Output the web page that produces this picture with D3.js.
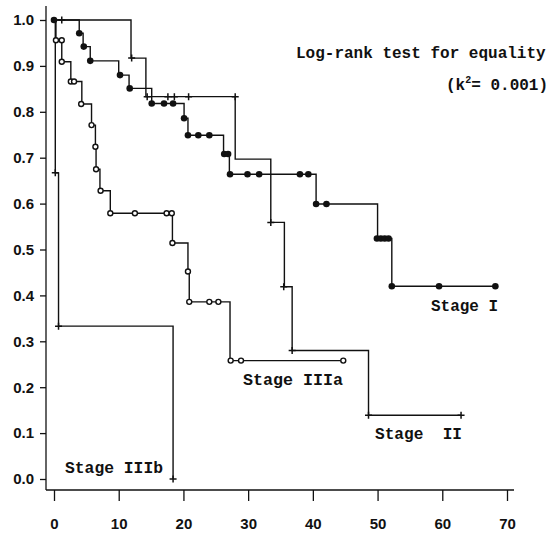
<!DOCTYPE html>
<html><head><meta charset="utf-8">
<script src="https://cdn.jsdelivr.net/npm/d3@7"></script>
<style>body{margin:0;background:#fff}svg{display:block}</style>
</head><body>
<svg id="c" width="552" height="535"></svg>
<script>
// ---- data ----
const xTicks = [0, 10, 20, 30, 40, 50, 60, 70];
const yTicks = [0.0, 0.1, 0.2, 0.3, 0.4, 0.5, 0.6, 0.7, 0.8, 0.9, 1.0];

const stageI_time = [0, 3.9, 4.5, 5.6, 10.0, 11.6, 15.1, 20.1, 20.7, 26.2, 27.1, 40.5, 50.0, 52.2, 68.2];
const stageI_surv = [1.0, 0.971, 0.942, 0.911, 0.880, 0.851, 0.818, 0.786, 0.749, 0.708, 0.664, 0.599, 0.524, 0.420, 0.420];
const stageI_markTime = [0, 3.9, 4.6, 5.6, 10.2, 11.7, 15.1, 17.0, 18.4, 20.1, 20.7, 22.3, 24.0, 26.3, 26.9, 27.2, 29.9, 31.7, 38.0, 39.3, 40.5, 42.1, 49.9, 50.5, 51.1, 51.7, 52.2, 59.5, 68.2];
const stageI_markSurv = [1.0, 0.971, 0.942, 0.911, 0.880, 0.851, 0.818, 0.818, 0.818, 0.786, 0.749, 0.749, 0.749, 0.708, 0.708, 0.664, 0.664, 0.664, 0.664, 0.664, 0.599, 0.599, 0.524, 0.524, 0.524, 0.524, 0.420, 0.420, 0.420];

const stageII_time = [0, 11.9, 14.2, 28.0, 33.5, 35.6, 36.8, 48.6, 62.9];
const stageII_surv = [1.0, 0.917, 0.833, 0.697, 0.559, 0.419, 0.280, 0.139, 0.139];
const stageII_markTime = [1.2, 12.0, 14.4, 17.6, 18.6, 20.8, 28.0, 33.5, 35.5, 36.8, 48.6, 62.9];
const stageII_markSurv = [1.0, 0.917, 0.833, 0.833, 0.833, 0.833, 0.833, 0.559, 0.419, 0.280, 0.139, 0.139];

const stageIIIa_time = [0, 0.3, 1.2, 2.6, 4.3, 5.8, 6.4, 6.5, 7.1, 8.7, 18.3, 20.7, 20.9, 27.2, 44.7];
const stageIIIa_surv = [1.0, 0.956, 0.909, 0.866, 0.817, 0.771, 0.724, 0.675, 0.628, 0.579, 0.514, 0.452, 0.386, 0.258, 0.258];
const stageIIIa_markTime = [0.3, 1.2, 1.2, 2.6, 3.1, 4.2, 5.8, 6.4, 6.5, 7.2, 8.7, 12.5, 17.4, 18.2, 18.3, 20.7, 20.9, 24.0, 25.4, 27.3, 28.9, 44.7];
const stageIIIa_markSurv = [0.956, 0.956, 0.909, 0.866, 0.866, 0.817, 0.771, 0.724, 0.675, 0.628, 0.579, 0.579, 0.579, 0.579, 0.514, 0.452, 0.386, 0.386, 0.386, 0.258, 0.258, 0.258];

const stageIIIb_time = [0, 0.2, 0.7, 18.4, 18.4];
const stageIIIb_surv = [1.0, 0.667, 0.333, 0.0, 0.0];
const stageIIIb_markTime = [0.2, 0.7, 18.4];
const stageIIIb_markSurv = [0.667, 0.333, 0.0];

const stageLabels = ["Stage I", "Stage  II", "Stage IIIa", "Stage IIIb"];
const testTitle = "Log-rank test for equality";

// ---- drawing ----
const svg = d3.select("#c");
const x = d3.scaleLinear().domain([0, 70]).range([54, 507]);
const y = d3.scaleLinear().domain([0, 1]).range([479, 20]);
const axisX = 46, axisY = 490;
const ink = "#111";

// axis lines
svg.append("line").attr("x1", axisX).attr("x2", axisX).attr("y1", 6).attr("y2", axisY)
  .attr("stroke", ink).attr("stroke-width", 1.3);
svg.append("line").attr("x1", axisX).attr("x2", 514).attr("y1", axisY).attr("y2", axisY)
  .attr("stroke", ink).attr("stroke-width", 1.3);

const gy = svg.append("g").attr("transform", `translate(${axisX},0)`)
  .call(d3.axisLeft(y).tickValues(yTicks).tickFormat(d3.format(".1f")).tickSize(6).tickPadding(6));
const gx = svg.append("g").attr("transform", `translate(0,${axisY})`)
  .call(d3.axisBottom(x).tickValues(xTicks).tickFormat(d3.format("d")).tickSize(11).tickPadding(17));
[gy, gx].forEach(g => {
  g.select(".domain").remove();
  g.selectAll(".tick line").attr("stroke", ink).attr("stroke-width", 1.3);
  g.selectAll(".tick text").attr("fill", ink)
    .style("font-family", "'Liberation Sans', Arial, sans-serif")
    .style("font-weight", "bold").style("font-size", "15px");
});

const line = d3.line().x(d => x(d[0])).y(d => y(d[1])).curve(d3.curveStepAfter);
function drawCurve(times, survs) {
  svg.append("path").datum(d3.zip(times, survs)).attr("d", line)
    .attr("fill", "none").attr("stroke", ink).attr("stroke-width", 1.4);
}
drawCurve(stageIIIb_time, stageIIIb_surv);
drawCurve(stageIIIa_time, stageIIIa_surv);
drawCurve(stageII_time, stageII_surv);
drawCurve(stageI_time, stageI_surv);

// markers
const plus = "M-3.5,0H3.5M0,-3.5V3.5";
svg.append("g").selectAll("path").data(d3.zip(stageIIIb_markTime, stageIIIb_markSurv)).join("path")
  .attr("transform", d => `translate(${x(d[0])},${y(d[1])})`)
  .attr("d", plus).attr("stroke", ink).attr("stroke-width", 1.5);
svg.append("g").selectAll("path").data(d3.zip(stageII_markTime, stageII_markSurv)).join("path")
  .attr("transform", d => `translate(${x(d[0])},${y(d[1])})`)
  .attr("d", plus).attr("stroke", ink).attr("stroke-width", 1.5);
svg.append("g").selectAll("circle").data(d3.zip(stageIIIa_markTime, stageIIIa_markSurv)).join("circle")
  .attr("cx", d => x(d[0])).attr("cy", d => y(d[1])).attr("r", 2.5)
  .attr("fill", "#fff").attr("stroke", ink).attr("stroke-width", 1.4);
svg.append("g").selectAll("circle").data(d3.zip(stageI_markTime, stageI_markSurv)).join("circle")
  .attr("cx", d => x(d[0])).attr("cy", d => y(d[1])).attr("r", 3.3)
  .attr("fill", ink);

// texts
const mono = "'Liberation Mono', 'Courier New', monospace";
function label(txt, xx, yy, w) {
  return svg.append("text").attr("x", xx).attr("y", yy).text(txt)
    .attr("fill", ink).style("font-family", mono).style("font-size", "17px")
    .style("font-weight", "bold").style("white-space", "pre")
    .attr("textLength", w).attr("lengthAdjust", "spacingAndGlyphs");
}
label(stageLabels[0], 431, 311, 67);
label(stageLabels[1], 375, 439, 87);
label(stageLabels[2], 243, 385, 100);
label(stageLabels[3], 65, 473, 98);
svg.append("text").attr("x", 296).attr("y", 58).text(testTitle)
  .attr("fill", ink).style("font-family", mono).style("font-size", "16px").style("font-weight", "bold");
const t2 = svg.append("text").attr("x", 446).attr("y", 90).attr("fill", ink)
  .style("font-family", mono).style("font-size", "16px").style("font-weight", "bold")
  .style("white-space", "pre");
t2.append("tspan").text("(k");
t2.append("tspan").text("2").attr("dy", -7).style("font-size", "10px");
t2.append("tspan").text("= 0.001)").attr("dy", 7);
</script>
</body></html>
